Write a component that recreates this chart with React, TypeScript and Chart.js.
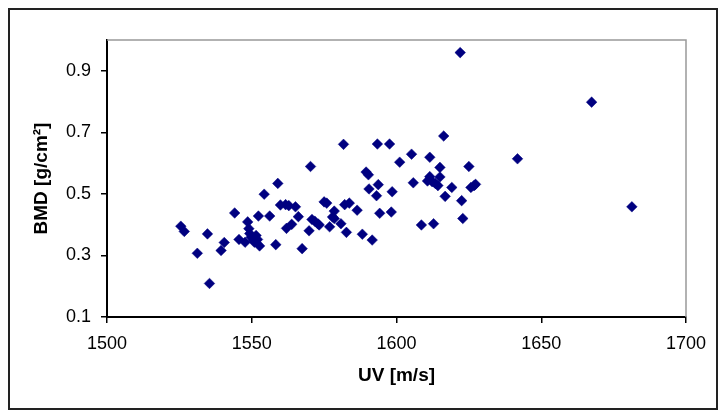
import React, { useEffect, useRef } from "react";
import { Chart, registerables } from "chart.js";

Chart.register(...registerables);

const uvValues = [
  1525.5, 1526.7, 1531.2, 1534.7, 1535.4, 1539.4, 1540.5, 1544.1, 1545.6, 1547.7,
  1548.6, 1549.0, 1549.3, 1549.8, 1550.6, 1550.9, 1551.5, 1552.0, 1552.3, 1552.7,
  1554.3, 1556.2, 1558.3, 1559.0, 1559.9, 1561.7, 1562.0, 1562.8, 1563.8, 1565.1,
  1566.1, 1567.4, 1569.8, 1570.3, 1570.8, 1571.8, 1572.9, 1573.3, 1575.0, 1575.9,
  1576.9, 1577.9, 1578.5, 1578.5, 1580.8, 1581.7, 1582.1, 1582.7, 1583.7, 1586.4,
  1588.2, 1589.5, 1590.3, 1590.5, 1591.6, 1593.1, 1593.4, 1593.7, 1594.2, 1597.6,
  1598.2, 1598.5, 1601.1, 1605.2, 1605.8, 1608.6, 1611.5, 1610.7, 1611.5, 1612.3,
  1612.8, 1613.4, 1614.3, 1615.0, 1615.0, 1616.3, 1616.8, 1619.1, 1622.0, 1622.5,
  1622.9, 1625.0, 1625.7, 1626.8, 1627.3, 1641.8, 1667.4, 1681.3,
];

const bmdValues = [
  0.395, 0.378, 0.307, 0.370, 0.209, 0.316, 0.342, 0.438, 0.352, 0.343,
  0.409, 0.387, 0.371, 0.359, 0.350, 0.343, 0.365, 0.352, 0.428, 0.331,
  0.499, 0.428, 0.335, 0.534, 0.464, 0.465, 0.388, 0.462, 0.401, 0.458,
  0.426, 0.322, 0.380, 0.589, 0.417, 0.411, 0.402, 0.399, 0.474, 0.470,
  0.393, 0.425, 0.444, 0.420, 0.403, 0.661, 0.465, 0.375, 0.470, 0.447,
  0.369, 0.571, 0.562, 0.516, 0.350, 0.494, 0.662, 0.530, 0.437, 0.662,
  0.441, 0.507, 0.603, 0.629, 0.536, 0.399, 0.619, 0.542, 0.556, 0.540,
  0.403, 0.534, 0.527, 0.555, 0.586, 0.688, 0.492, 0.521, 0.959, 0.478,
  0.420, 0.589, 0.521, 0.527, 0.531, 0.614, 0.798, 0.458,
];

const xTickValues = [1500, 1550, 1600, 1650, 1700];
const yTickValues = [0.1, 0.3, 0.5, 0.7, 0.9];

const xTitle = "UV [m/s]";
const yTitle = "BMD [g/cm²]";

const FONT = "'Liberation Sans', Arial, sans-serif";

const framePlugin = {
  id: "frame",
  afterDraw(chart: any) {
    const { ctx, chartArea, width, height } = chart;
    ctx.save();
    ctx.strokeStyle = "#999999";
    ctx.lineWidth = 1.5;
    ctx.beginPath();
    ctx.moveTo(chartArea.left, chartArea.top);
    ctx.lineTo(chartArea.right, chartArea.top);
    ctx.lineTo(chartArea.right, chartArea.bottom);
    ctx.stroke();
    ctx.strokeStyle = "#222222";
    ctx.lineWidth = 2;
    ctx.strokeRect(1, 1, width - 2, height - 2);
    ctx.restore();
  },
};

export default function App() {
  const ref = useRef<HTMLCanvasElement | null>(null);

  useEffect(() => {
    if (!ref.current) return;
    const points = uvValues.map((x, i) => ({ x, y: bmdValues[i] }));
    const chart = new Chart(ref.current, {
      type: "scatter",
      data: {
        datasets: [
          {
            data: points,
            pointStyle: "rectRot",
            pointRadius: 5.3,
            pointBackgroundColor: "#000080",
            pointBorderColor: "#000080",
            pointBorderWidth: 0.5,
          },
        ],
      },
      options: {
        responsive: false,
        animation: false,
        devicePixelRatio: 1,
        layout: { padding: { top: 32, right: 32, left: 18, bottom: 19 } },
        plugins: { legend: { display: false }, tooltip: { enabled: false } },
        scales: {
          x: {
            type: "linear",
            min: 1500,
            max: 1700,
            afterBuildTicks: (s: any) => {
              s.ticks = xTickValues.map((v) => ({ value: v }));
            },
            afterFit: (s: any) => {
              s.height = 74;
            },
            grid: {
              display: true,
              drawOnChartArea: false,
              drawTicks: true,
              tickLength: 6,
              color: "#000000",
              lineWidth: 1.5,
            },
            border: { display: true, color: "#000000", width: 2 },
            ticks: {
              color: "#000000",
              padding: 10,
              maxRotation: 0,
              minRotation: 0,
              font: { family: FONT, size: 18 },
              callback: (v: any) => String(v),
            },
            title: {
              display: true,
              text: xTitle,
              color: "#000000",
              font: { family: FONT, size: 19, weight: "bold" },
            },
          },
          y: {
            type: "linear",
            min: 0.1,
            max: 1.0,
            afterBuildTicks: (s: any) => {
              s.ticks = yTickValues.map((v) => ({ value: v }));
            },
            afterFit: (s: any) => {
              s.width = 81;
            },
            grid: {
              display: true,
              drawOnChartArea: false,
              drawTicks: true,
              tickLength: 6,
              color: "#000000",
              lineWidth: 1.5,
            },
            border: { display: true, color: "#000000", width: 2 },
            ticks: {
              color: "#000000",
              padding: 10,
              font: { family: FONT, size: 18 },
              callback: (v: any) => Number(v).toFixed(1),
            },
            title: {
              display: true,
              text: yTitle,
              color: "#000000",
              font: { family: FONT, size: 19, weight: "bold" },
            },
          },
        },
      },
      plugins: [framePlugin],
    });
    return () => chart.destroy();
  }, []);

  return (
    <div style={{ width: 710, height: 402 }}>
      <canvas ref={ref} width={710} height={402} style={{ display: "block" }} />
    </div>
  );
}
